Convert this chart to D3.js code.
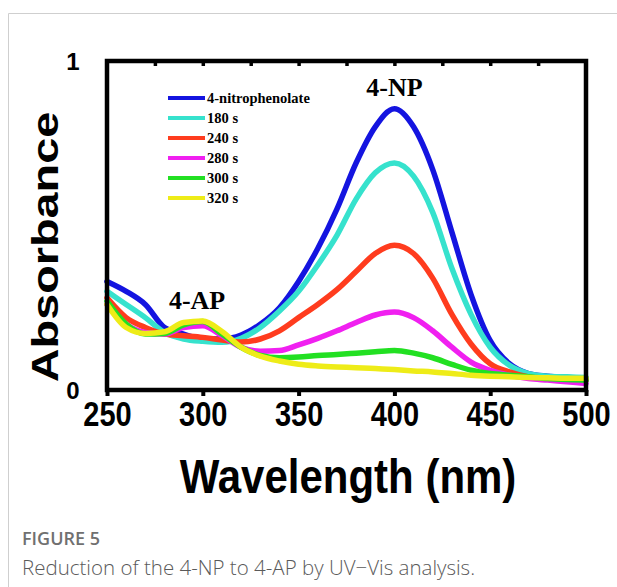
<!DOCTYPE html>
<html>
<head>
<meta charset="utf-8">
<script src="https://cdn.jsdelivr.net/npm/d3@7"></script>
<style>
  body { margin: 0; background: #fff; }
  svg { display: block; }
</style>
</head>
<body>
<script>
// wavelength grid (nm) and absorbance
const wavelengths = [250, 260, 270, 280, 290, 300, 310, 320, 330, 340, 350, 360, 370,
  380, 390, 400, 410, 420, 430, 440, 450, 460, 470, 480, 490, 500];

const seriesNames = ["4-nitrophenolate", "180 s", "240 s", "280 s", "300 s", "320 s"];
const seriesColors = ["#1414e0", "#36e2cd", "#ff3c1e", "#f020f0", "#22e022", "#eeec18"];

const nitrophenolate = [.33, .30, .26, .19, .17, .155, .155, .167, .20, .25, .33, .43, .55,
  .69, .80, .855, .80, .67, .48, .29, .15, .08, .05, .042, .038, .035];
const s180 = [.30, .26, .22, .175, .155, .148, .145, .157, .19, .24, .30, .38, .47,
  .58, .66, .69, .65, .54, .37, .23, .13, .075, .05, .042, .04, .038];
const s240 = [.28, .22, .19, .17, .165, .16, .152, .146, .155, .18, .22, .26, .305,
  .36, .415, .44, .415, .34, .23, .14, .08, .055, .04, .035, .033, .03];
const s280 = [.26, .20, .175, .17, .19, .195, .165, .13, .118, .12, .137, .157, .18,
  .205, .228, .237, .22, .18, .13, .085, .06, .045, .035, .03, .025, .02];
const s300 = [.27, .20, .17, .172, .198, .208, .17, .13, .105, .098, .10, .105, .108,
  .112, .116, .12, .112, .098, .078, .06, .05, .045, .04, .035, .032, .03];
const s320 = [.26, .19, .172, .177, .205, .21, .178, .13, .103, .088, .078, .073, .07,
  .068, .065, .062, .058, .055, .05, .045, .042, .04, .038, .037, .036, .036];

const seriesValues = [nitrophenolate, s180, s240, s280, s300, s320];

const xTicks = [250, 300, 350, 400, 450, 500];
const yTicks = [0, 1];

const width = 617;
const height = 587;
const frame = {left: 107, right: 586, top: 61, bottom: 390};

const svg = d3.select("body").append("svg")
  .attr("width", width)
  .attr("height", height);

// card border
svg.append("path")
  .attr("d", `M8.5,${height} V13.5 H${width}`)
  .attr("fill", "none")
  .attr("stroke", "#cfcfcf")
  .attr("stroke-width", 1);

const x = d3.scaleLinear()
  .domain([250, 500])
  .range([frame.left, frame.right]);

const y = d3.scaleLinear()
  .domain([0, 1])
  .range([frame.bottom, frame.top]);

// curves
const line = d3.line()
  .x((d, i) => x(wavelengths[i]))
  .y(d => y(d))
  .curve(d3.curveMonotoneX);

svg.append("g")
  .selectAll("path")
  .data(seriesValues)
  .join("path")
    .attr("d", line)
    .attr("fill", "none")
    .attr("stroke", (d, i) => seriesColors[i])
    .attr("stroke-width", 5.5)
    .attr("stroke-linejoin", "round")
    .attr("stroke-linecap", "round");

// bottom axis: ticks + labels
const xAxis = g => g
  .attr("transform", `translate(0,${frame.bottom})`)
  .call(d3.axisBottom(x).tickValues(xTicks).tickSize(6).tickFormat(d3.format("d")))
  .call(g => g.select(".domain").remove())
  .call(g => g.selectAll(".tick line").attr("stroke", "#000").attr("stroke-width", 4))
  .call(g => g.selectAll(".tick text")
    .attr("y", 0)
    .attr("dy", 0)
    .attr("transform", "translate(0,36) scale(1,1.2)")
    .attr("font-family", "Liberation Sans, Arial, sans-serif")
    .attr("font-weight", "bold")
    .attr("font-size", 29)
    .attr("fill", "#000"));

// top minor ticks
const xTop = g => g
  .attr("transform", `translate(0,${frame.top})`)
  .call(d3.axisBottom(x).tickValues(d3.range(275, 500, 25)).tickSize(5).tickFormat(""))
  .call(g => g.select(".domain").remove())
  .call(g => g.selectAll(".tick line").attr("stroke", "#000").attr("stroke-width", 3.5));

const yAxis = g => g
  .attr("transform", `translate(${frame.left},0)`)
  .call(d3.axisLeft(y).tickValues(yTicks).tickSize(0).tickFormat(d3.format("d")))
  .call(g => g.select(".domain").remove())
  .call(g => g.selectAll(".tick text")
    .attr("x", -34)
    .attr("dy", "0.36em")
    .attr("text-anchor", "middle")
    .attr("font-family", "Liberation Sans, Arial, sans-serif")
    .attr("font-weight", "bold")
    .attr("font-size", 24)
    .attr("fill", "#000"));

svg.append("g").call(xAxis);
svg.append("g").call(xTop);
svg.append("g").call(yAxis);

// frame
svg.append("rect")
  .attr("x", frame.left)
  .attr("y", frame.top)
  .attr("width", frame.right - frame.left)
  .attr("height", frame.bottom - frame.top)
  .attr("fill", "none")
  .attr("stroke", "#000")
  .attr("stroke-width", 4.5);

// axis titles
svg.append("text")
  .attr("transform", "translate(348,493) scale(1,1.15)")
  .attr("text-anchor", "middle")
  .attr("font-family", "Liberation Sans, Arial, sans-serif")
  .attr("font-weight", "bold")
  .attr("font-size", 42)
  .text("Wavelength (nm)");

svg.append("text")
  .attr("transform", "translate(58,247) rotate(-90) scale(1.3,1)")
  .attr("text-anchor", "middle")
  .attr("font-family", "Liberation Sans, Arial, sans-serif")
  .attr("font-weight", "bold")
  .attr("font-size", 36)
  .text("Absorbance");

// legend
const legend = svg.append("g")
  .attr("font-family", "Liberation Serif, Times New Roman, serif")
  .attr("font-weight", "bold")
  .attr("font-size", 14.5);

const rows = legend.selectAll("g")
  .data(seriesNames)
  .join("g")
    .attr("transform", (d, i) => `translate(168,${98 + i * 20})`);

rows.append("line")
  .attr("x1", 0)
  .attr("x2", 37)
  .attr("stroke", (d, i) => seriesColors[i])
  .attr("stroke-width", 4);

rows.append("text")
  .attr("x", 39)
  .attr("dy", "0.35em")
  .text(d => d);

// peak annotations
const annot = svg.append("g")
  .attr("font-family", "Liberation Serif, Times New Roman, serif")
  .attr("font-weight", "bold")
  .attr("font-size", 26)
  .attr("text-anchor", "middle");

annot.append("text").attr("x", x(400)).attr("y", 96).text("4-NP");
annot.append("text").attr("x", x(297)).attr("y", 309).text("4-AP");

// caption
svg.append("text")
  .attr("x", 22)
  .attr("y", 545)
  .attr("font-family", "Open Sans, sans-serif")
  .attr("font-size", 18)
  .attr("font-weight", 600)
  .attr("fill", "#707070")
  .text("FIGURE 5");

svg.append("text")
  .attr("x", 22)
  .attr("y", 575)
  .attr("font-family", "Open Sans, sans-serif")
  .attr("font-size", 20.5)
  .attr("font-weight", 300)
  .attr("fill", "#5a5a5a")
  .text("Reduction of the 4-NP to 4-AP by UV\u2212Vis analysis.");
</script>
</body>
</html>
